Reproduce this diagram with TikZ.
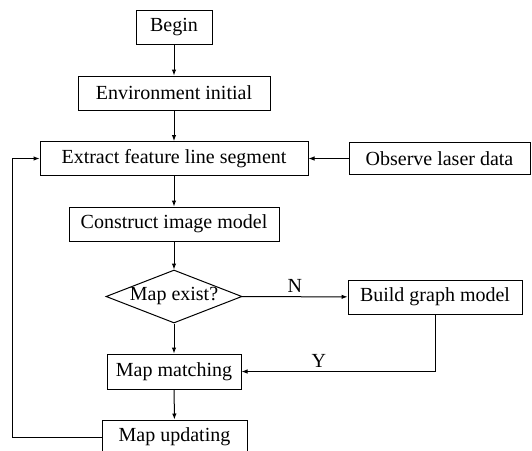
\documentclass[tikz,border=0pt]{standalone}
\usepackage{fontspec}
\setmainfont{Liberation Serif}
\usepackage{tikz}
\usetikzlibrary{arrows.meta}
\usetikzlibrary{shapes.geometric}
\tikzset{l/.style={font=\fontsize{20}{20}\selectfont}}
\tikzset{b/.style={draw, l, inner sep=0pt, minimum height=34pt}}
\tikzset{d/.style={b, diamond, aspect=2.57, minimum width=136pt, minimum height=53pt}}

\begin{document}
\begin{tikzpicture}[x=1pt, y=-1pt, line width=1pt, >={Latex[length=6pt,width=4.5pt]}]
        \useasboundingbox (0,0) rectangle (532,450);
          \node [b, minimum width=76pt] (Begin) at (174, 27) {Begin};
          \node [b, minimum width=192pt] (Env) at (174, 93) {Environment initial}
            edge [<-] (Begin);
          \node [b, minimum width=268pt] (Ext) at (174, 158.5) {Extract feature line segment}
            edge [<-] (Env);
          \node [b, minimum width=181pt, minimum height=32pt] (Obs) at (439.5, 158.5) {Observe laser data}
            edge [->] (Ext);
          \node [b, minimum width=210pt] (Con) at (174, 224) {Construct image model}
            edge [<-] (Ext);
          \node [d] (Exist) at (174, 296.5) {Map exist?}
            edge [<-] (Con);
          \node [b, minimum width=174pt] (Build) at (435, 297) {Build graph model}
            edge [<-] node [above, l] {N} (Exist);
          \node [b, minimum width=134pt, minimum height=35pt] (Match) at (174, 371.5) {Map matching}
            edge [<-] (Exist);
          \node [b, minimum width=145pt] (Upd) at (174.5, 437) {Map updating}
            edge [<-] (Match);
          \draw [->] (Build.south) |- node [pos=0.8, above, l] {Y} (Match.east);
          % back to the feature extraction
          \coordinate (Loop) at (12, 0);
          \draw [->] (Upd.west) -- (Upd.west -| Loop) |- (Ext.west);
      \end{tikzpicture}
\end{document}
